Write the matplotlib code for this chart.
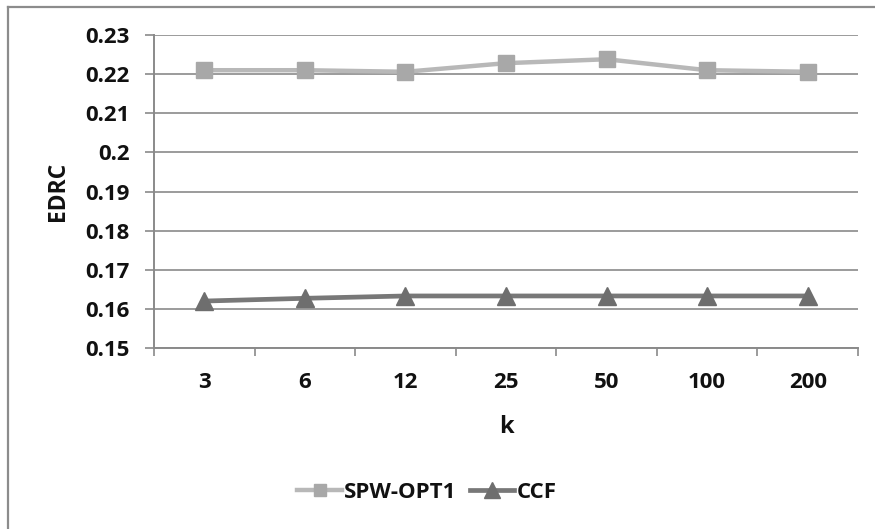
import matplotlib
matplotlib.use("Agg")
import matplotlib.pyplot as plt
from matplotlib.lines import Line2D
from matplotlib.ticker import FixedLocator

categories = ["3", "6", "12", "25", "50", "100", "200"]
spw_opt1 = [0.2210, 0.2210, 0.2206, 0.2228, 0.2238, 0.2210, 0.2206]
ccf = [0.1620, 0.1627, 0.1633, 0.1633, 0.1633, 0.1633, 0.1633]
y_ticks = [0.15, 0.16, 0.17, 0.18, 0.19, 0.20, 0.21, 0.22, 0.23]
y_tick_labels = ["0.15", "0.16", "0.17", "0.18", "0.19", "0.2", "0.21", "0.22", "0.23"]

plt.rcParams["font.family"] = ["Open Sans", "DejaVu Sans"]
plt.rcParams["font.weight"] = "bold"

W, H = 875, 529
fig = plt.figure(figsize=(W / 100, H / 100), dpi=100)
ax = fig.add_axes([154 / W, 1 - 348 / H, (858 - 154) / W, (348 - 35) / H])

grid_c = "#8a8a8a"
text_c = "#111111"
x = list(range(len(categories)))

ax.plot(x, spw_opt1, color="#b8b8b8", lw=3.2, marker="s", ms=11,
        mfc="#a8a8a8", mec="#a8a8a8", label="SPW-OPT1", zorder=3)
ax.plot(x, ccf, color="#787878", lw=3.4, marker="^", ms=13,
        mfc="#6e6e6e", mec="#6e6e6e", label="CCF", zorder=3)

ax.set_xlim(-0.5, len(categories) - 0.5)
ax.set_ylim(0.15, 0.23)
ax.set_yticks(y_ticks)
ax.set_yticklabels(y_tick_labels, fontweight="bold")
ax.set_xticks(x)
ax.set_xticklabels(categories, fontweight="bold")
ax.xaxis.set_minor_locator(FixedLocator([i - 0.5 for i in range(len(categories) + 1)]))

ax.grid(axis="y", color=grid_c, lw=1.2)
ax.set_axisbelow(True)
for s in ["top", "right"]:
    ax.spines[s].set_visible(False)
for s in ["left", "bottom"]:
    ax.spines[s].set_color(grid_c)
    ax.spines[s].set_linewidth(1.4)

ax.tick_params(axis="y", length=6.5, width=1.2, color=grid_c, pad=11,
               labelsize=16, labelcolor=text_c)
ax.tick_params(axis="x", which="major", length=0, pad=17,
               labelsize=16, labelcolor=text_c)
ax.tick_params(axis="x", which="minor", length=6, width=1.2, color=grid_c)

ax.set_ylabel("EDRC", fontsize=16.5, fontweight="bold", color=text_c, labelpad=11)
ax.set_xlabel("k", fontsize=17, fontweight="bold", color=text_c, labelpad=16)

leg = fig.legend(loc="center", bbox_to_anchor=(427 / W, 1 - 492 / H), ncol=2,
                 frameon=False, prop={"size": 16, "weight": "bold"},
                 handlelength=2.0, handletextpad=0.1, columnspacing=0.6,
                 markerscale=0.85)
for t in leg.get_texts():
    t.set_color(text_c)

# outer chart frame
fig.add_artist(Line2D([8 / W, 1], [1 - 7 / H, 1 - 7 / H], color="#8c8c8c", lw=1.6,
                      transform=fig.transFigure))
fig.add_artist(Line2D([8 / W, 8 / W], [0, 1 - 7 / H], color="#8c8c8c", lw=1.6,
                      transform=fig.transFigure))

fig.savefig("out.png", dpi=100)
